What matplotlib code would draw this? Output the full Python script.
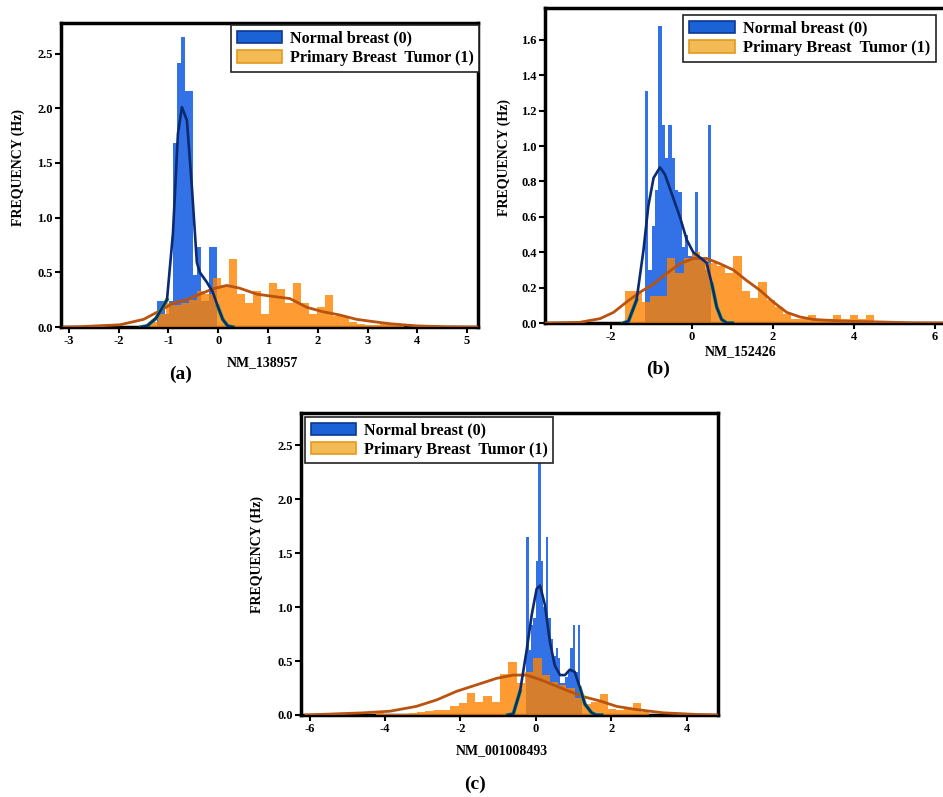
import numpy as np
import matplotlib
matplotlib.use('Agg')
import matplotlib.pyplot as plt
from matplotlib.patches import Patch

plt.rcParams['font.family'] = ['Liberation Serif', 'DejaVu Serif']
plt.rcParams['font.weight'] = 'bold'
plt.rcParams['axes.unicode_minus'] = False

LABEL_NORMAL = 'Normal breast (0)'
LABEL_TUMOR = 'Primary Breast  Tumor (1)'

# ---------------- (a) NM_138957 ----------------
a_blue_start, a_blue_width = -1.23, 0.08
a_blue_heights = [0.24, 0.24, 0.12, 0.24, 1.68, 2.41, 2.65, 2.16, 2.16, 0.48,
                  0.73, 0.24, 0.24, 0.73, 0.73]
a_orange_start, a_orange_width = -1.38, 0.16
a_orange_heights = [0.05, 0.12, 0.22, 0.20, 0.22, 0.25, 0.33, 0.30, 0.45, 0.38,
                    0.62, 0.30, 0.22, 0.33, 0.12, 0.40, 0.35, 0.22, 0.40, 0.22,
                    0.12, 0.18, 0.29, 0.10, 0.10, 0.05, 0.03, 0.02, 0.02, 0.04,
                    0.04, 0.02]
a_kde_blue_x = [-1.55, -1.43, -1.25, -1.03, -0.91, -0.81, -0.73, -0.63, -0.53,
                -0.43, -0.37, -0.23, -0.11, -0.01, 0.09, 0.19, 0.3]
a_kde_blue_y = [0.0, 0.01, 0.08, 0.25, 0.86, 1.77, 2.01, 1.89, 1.28, 0.59, 0.50,
                0.41, 0.32, 0.19, 0.07, 0.01, 0.0]
a_kde_orange_x = [-3.1, -2.78, -1.98, -1.5, -1.17, -0.9, -0.63, -0.37, -0.1,
                  0.17, 0.43, 0.78, 1.1, 1.44, 1.78, 2.1, 2.44, 2.78, 3.1, 3.45,
                  4.0, 4.6, 5.2]
a_kde_orange_y = [0.0, 0.003, 0.02, 0.07, 0.15, 0.22, 0.25, 0.30, 0.35, 0.38,
                  0.355, 0.30, 0.28, 0.26, 0.18, 0.14, 0.11, 0.07, 0.05, 0.03,
                  0.01, 0.002, 0.0]

# ---------------- (b) NM_152426 ----------------
b_blue_start, b_blue_width = -1.16, 0.082
b_blue_heights = [1.31, 0.30, 0.55, 0.75, 1.68, 1.12, 0.93, 1.12, 0.93, 0.75,
                  0.74, 0.43, 0.50, 0.38, 0.40, 0.74, 0.36, 0.36, 0.30, 1.12]
b_orange_start, b_orange_width = -1.645, 0.205
b_orange_heights = [0.18, 0.18, 0.12, 0.15, 0.15, 0.37, 0.28, 0.37, 0.40, 0.36,
                    0.34, 0.32, 0.28, 0.38, 0.18, 0.14, 0.23, 0.13, 0.09, 0.05,
                    0.02, 0.02, 0.045, 0.02, 0.02, 0.045, 0.02, 0.045, 0.02, 0.045]
b_kde_blue_x = [-1.7, -1.57, -1.37, -1.2, -1.08, -0.95, -0.79, -0.67, -0.5, -0.3,
                -0.13, 0.03, 0.2, 0.36, 0.49, 0.61, 0.73, 0.86, 1.0]
b_kde_blue_y = [0.0, 0.01, 0.13, 0.41, 0.66, 0.82, 0.88, 0.84, 0.73, 0.60, 0.47,
                0.40, 0.37, 0.34, 0.22, 0.09, 0.02, 0.0, 0.0]
b_kde_orange_x = [-3.6, -2.77, -2.27, -1.94, -1.61, -1.28, -0.95, -0.63, -0.3,
                  0.03, 0.36, 0.69, 1.02, 1.35, 1.68, 2.0, 2.34, 2.67, 3.0, 3.82,
                  4.64, 5.46, 6.2]
b_kde_orange_y = [0.0, 0.004, 0.025, 0.06, 0.12, 0.175, 0.22, 0.28, 0.335, 0.365,
                  0.365, 0.335, 0.30, 0.24, 0.185, 0.12, 0.06, 0.034, 0.02, 0.01,
                  0.006, 0.001, 0.0]

# ---------------- (c) NM_001008493 ----------------
c_blue_start, c_blue_width = -0.26, 0.065
c_blue_heights = [1.65, 0.60, 0.83, 0.90, 1.43, 2.34, 1.43, 1.00, 1.65, 0.90,
                  0.70, 0.55, 0.62, 0.53, 0.30, 0.30, 0.35, 0.40, 0.62, 0.83,
                  0.40, 0.83, 0.20]
c_orange_start, c_orange_width = -4.25, 0.22
c_orange_heights = [0.035, 0.01, 0.01, 0.01, 0.02, 0.03, 0.04, 0.05, 0.05, 0.08,
                    0.11, 0.20, 0.12, 0.18, 0.12, 0.38, 0.49, 0.30, 0.40, 0.53,
                    0.37, 0.31, 0.28, 0.25, 0.16, 0.10, 0.12, 0.19, 0.06, 0.05,
                    0.06, 0.11, 0.03]
c_kde_blue_x = [-0.75, -0.6, -0.42, -0.25, -0.11, 0.02, 0.11, 0.24, 0.37, 0.5,
                0.64, 0.77, 0.9, 1.03, 1.17, 1.3, 1.48, 1.6, 1.75]
c_kde_blue_y = [0.0, 0.01, 0.22, 0.59, 0.93, 1.17, 1.20, 1.02, 0.68, 0.46, 0.37,
                0.37, 0.42, 0.40, 0.25, 0.10, 0.02, 0.0, 0.0]
c_kde_orange_x = [-6.1, -4.58, -3.87, -3.17, -2.63, -2.1, -1.57, -1.04, -0.6,
                  -0.25, 0.1, 0.46, 0.81, 1.26, 1.7, 2.14, 2.67, 3.38, 4.26, 4.8]
c_kde_orange_y = [0.0, 0.02, 0.035, 0.08, 0.14, 0.22, 0.28, 0.34, 0.37, 0.37,
                  0.33, 0.28, 0.23, 0.17, 0.13, 0.08, 0.05, 0.02, 0.005, 0.0]

BLUE = '#3372e6'
ORANGE = '#ff8200'
KDE_BLUE = '#0b2a70'
KDE_GREEN = '#3aa848'
KDE_ORANGE = '#b9530f'


def edges_from(start, width, heights):
    return start + width * np.arange(len(heights) + 1)


def draw_panel(ax, blue, orange, kde_blue, kde_orange, xlim, ylim, xticks, yticks,
               xlabel, xlabel_pos, ylabel_pos, legend_anchor, legend_size):
    # histograms (density values)
    be = edges_from(*blue)
    ax.hist(be[:-1], bins=be, weights=blue[2], color=BLUE, zorder=2)
    oe = edges_from(*orange)
    ax.hist(oe[:-1], bins=oe, weights=orange[2], color=ORANGE, alpha=0.8, zorder=3)

    # kde curves
    ax.plot(kde_orange[0], kde_orange[1], color=KDE_ORANGE, lw=2, zorder=4)
    kx = np.array(kde_blue[0])
    ky = np.array(kde_blue[1])
    low = np.where(ky < 0.32, ky, np.nan)
    ax.plot(kx, low, color=KDE_GREEN, lw=2.8, zorder=5)
    ax.plot(kx, ky, color=KDE_BLUE, lw=1.9, zorder=6)

    ax.set_xlim(*xlim)
    ax.set_ylim(*ylim)
    ax.set_xticks(xticks)
    ax.set_yticks(yticks)
    ax.set_yticklabels(['%.1f' % t for t in yticks])
    ax.tick_params(axis='both', labelsize=9, length=4, width=1.5, pad=2)
    for s in ax.spines.values():
        s.set_linewidth(2.5)
    ax.set_xlabel(xlabel, fontsize=10, fontweight='bold')
    ax.xaxis.set_label_coords(*xlabel_pos)
    ax.set_ylabel('FREQUENCY (Hz)', fontsize=10, fontweight='bold')
    ax.yaxis.set_label_coords(*ylabel_pos)

    handles = [Patch(facecolor='#1a62d6', edgecolor='#0a3a90', lw=1.2),
               Patch(facecolor='#f2bb55', edgecolor='#e39a1c', lw=1.2)]
    leg = ax.legend(handles, [LABEL_NORMAL, LABEL_TUMOR], loc='upper left',
                    bbox_to_anchor=legend_anchor, fancybox=False, framealpha=1,
                    edgecolor='#222222', prop={'size': legend_size, 'weight': 'bold'},
                    handlelength=2.8, handleheight=0.8, labelspacing=0.2,
                    handletextpad=0.5, borderpad=0.35, borderaxespad=0)
    leg.get_frame().set_linewidth(1.2)
    leg.set_zorder(10)


fig = plt.figure(figsize=(9.43, 7.97), dpi=100)

ax_a = fig.add_axes([0.0647, 0.5897, 0.4422, 0.3814])
draw_panel(ax_a,
           (a_blue_start, a_blue_width, a_blue_heights),
           (a_orange_start, a_orange_width, a_orange_heights),
           (a_kde_blue_x, a_kde_blue_y), (a_kde_orange_x, a_kde_orange_y),
           (-3.16, 5.22), (0, 2.78), range(-3, 6), [0.0, 0.5, 1.0, 1.5, 2.0, 2.5],
           'NM_138957', (0.484, -0.095), (-0.087, 0.526), (0.408, 0.993), 11.6)

ax_b = fig.add_axes([0.578, 0.5947, 0.4242, 0.3952])
draw_panel(ax_b,
           (b_blue_start, b_blue_width, b_blue_heights),
           (b_orange_start, b_orange_width, b_orange_heights),
           (b_kde_blue_x, b_kde_blue_y), (b_kde_orange_x, b_kde_orange_y),
           (-3.63, 6.25), (0, 1.78), [-2, 0, 2, 4, 6],
           [0.0, 0.2, 0.4, 0.6, 0.8, 1.0, 1.2, 1.4, 1.6],
           'NM_152426', (0.49, -0.07), (-0.085, 0.524), (0.345, 0.978), 11.8)

ax_c = fig.add_axes([0.3192, 0.1029, 0.4422, 0.3789])
draw_panel(ax_c,
           (c_blue_start, c_blue_width, c_blue_heights),
           (c_orange_start, c_orange_width, c_orange_heights),
           (c_kde_blue_x, c_kde_blue_y), (c_kde_orange_x, c_kde_orange_y),
           (-6.23, 4.83), (0, 2.80), [-6, -4, -2, 0, 2, 4],
           [0.0, 0.5, 1.0, 1.5, 2.0, 2.5],
           'NM_001008493', (0.482, -0.096), (-0.089, 0.53), (0.0096, 0.987), 11.6)

# panel letters
fig.text(181 / 943, 1 - 374 / 797, '(a)', fontsize=14, fontweight='bold',
         ha='center', va='center')
fig.text(658 / 943, 1 - 369 / 797, '(b)', fontsize=14, fontweight='bold',
         ha='center', va='center')
fig.text(475 / 943, 1 - 784 / 797, '(c)', fontsize=14, fontweight='bold',
         ha='center', va='center')

plt.savefig('out.png', dpi=100)
